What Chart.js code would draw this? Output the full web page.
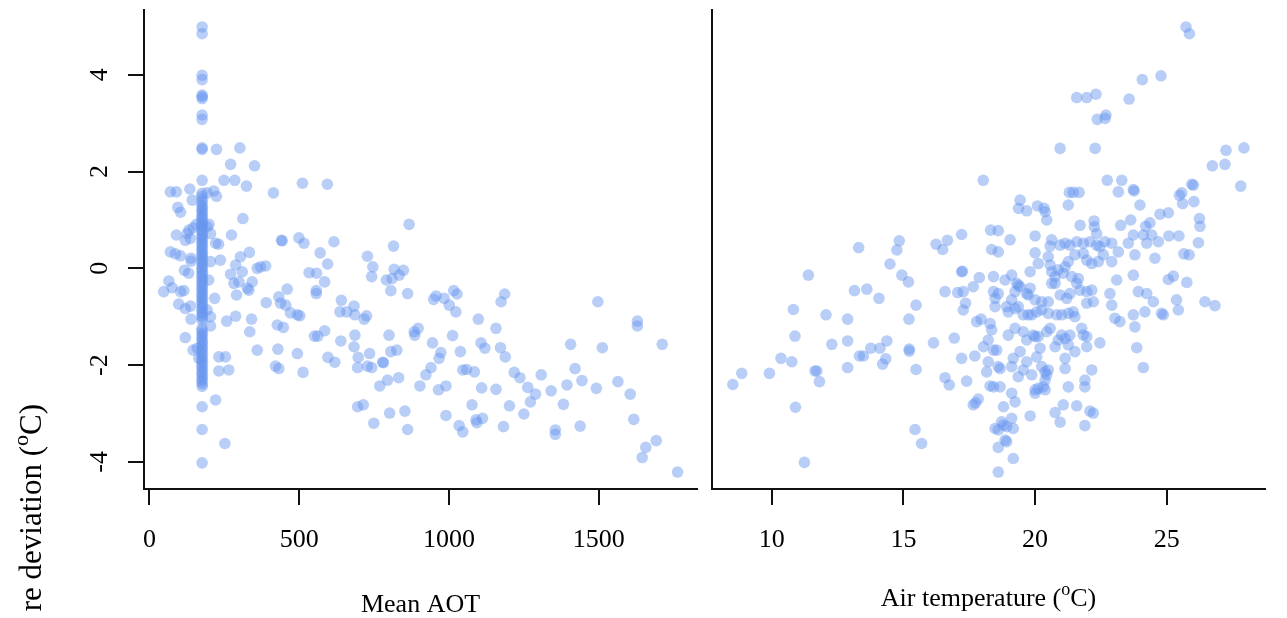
<!DOCTYPE html>
<html>
<head>
<meta charset="utf-8">
<script src="https://cdn.jsdelivr.net/npm/chart.js@4.4.0/dist/chart.umd.min.js"></script>
<style>
  body { margin: 0; background: #fff; }
  #wrap { position: relative; width: 1287px; height: 618px; overflow: hidden; background: #fff; }
  canvas { position: absolute; left: 0; top: 0; }
</style>
</head>
<body>
<div id="wrap">
  <canvas id="aotChart" width="1287" height="618"></canvas>
  <canvas id="tempChart" width="1287" height="618"></canvas>
</div>
<script>
// ticks
var aotTicks = [0, 500, 1000, 1500];
var tempTicks = [10, 15, 20, 25];
var devTicks = [-4, -2, 0, 2, 4];
var devLabels = ['-4', '-2', '0', '2', '4'];

// [mean AOT, deviation]
var aotPoints = [
  [176,4.99],[176,4.85],[176,3.99],[176,3.90],[176,3.58],[176,3.55],[176,3.51],[176,3.17],[176,3.08],[176,2.49],[176,2.46],[176,1.82],
  [176,1.55],[175,1.49],[177,1.43],[176,1.37],[175,1.31],[177,1.27],[176,1.22],[175,1.18],[177,1.13],[176,1.08],[175,1.04],[177,0.99],
  [176,0.95],[175,0.90],[177,0.86],[176,0.81],[175,0.77],[177,0.72],[176,0.68],[175,0.63],[177,0.59],[176,0.55],[175,0.50],[177,0.46],
  [176,0.41],[175,0.37],[177,0.32],[176,0.28],[175,0.24],[177,0.19],[176,0.15],[175,0.10],[177,0.06],[176,0.01],[175,-0.03],[177,-0.08],
  [176,-0.12],[175,-0.17],[177,-0.21],[176,-0.26],[175,-0.30],[177,-0.35],[176,-0.39],[175,-0.44],[177,-0.48],[176,-0.53],[175,-0.57],
  [177,-0.62],[176,-0.66],[175,-0.71],[177,-0.75],[176,-0.80],[175,-0.84],[177,-0.89],[176,-0.93],[175,-0.98],[177,-1.02],[176,-1.07],
  [176,-1.24],[175,-1.29],[177,-1.34],[176,-1.39],[175,-1.44],[177,-1.49],[176,-1.54],[175,-1.59],[177,-1.64],[176,-1.69],[175,-1.74],
  [177,-1.79],[176,-1.84],[175,-1.89],[177,-1.94],[176,-1.99],[175,-2.04],[177,-2.09],[176,-2.14],[175,-2.19],[177,-2.24],[176,-2.29],
  [175,-2.34],[177,-2.39],[176,-2.44],[176,-2.86],[176,-3.33],[176,-4.02],
  [224,2.46],[302,2.49],[271,2.15],[351,2.12],[249,1.82],[285,1.82],[324,1.70],[70,1.58],[90,1.58],[135,1.64],[143,1.41],
  [193,1.56],[215,1.60],[224,1.49],[414,1.56],[511,1.76],[594,1.74],[95,1.26],[104,1.16],[312,1.03],[867,0.91],[90,0.69],
  [126,0.72],[274,0.69],[441,0.58],[443,0.57],[499,0.63],[516,0.52],[616,0.55],[815,0.46],
  [146,0.84],[132,0.79],[120,0.58],[137,0.62],[157,0.91],[70,0.34],[87,0.30],[104,0.26],[139,0.21],[139,0.15],
  [48,-0.48],[65,-0.26],[76,-0.40],[104,-0.48],[115,-0.46],[117,-0.04],[131,-0.10],[98,-0.74],[120,-0.83],[137,-0.78],
  [139,-1.05],[120,-1.43],[146,-1.69],[160,-1.65],[165,-1.86],
  [199,0.91],[204,-1.19],[193,-0.86],[204,-1.00],[218,-0.62],[198,-0.24],[204,0.14],[237,0.17],[221,0.52],[231,0.50],[193,0.86],[204,0.72],
  [221,-2.72],[252,-3.62],[232,-1.83],[254,-1.83],[232,-2.12],[265,-2.10],[258,-1.09],[288,-0.99],[291,-0.55],[271,-0.12],
  [288,0.07],[310,-0.07],[304,0.24],[334,0.33],[282,-0.31],[299,-0.28],[327,-0.41],[343,-0.28],[360,0.00],[371,0.03],[388,0.05],
  [332,-0.45],[341,-1.05],[335,-1.31],[360,-1.69],[390,-0.71],[432,-0.59],[438,-0.72],[460,-0.43],[455,-0.76],[471,-0.92],
  [494,-0.96],[502,-0.98],[427,-1.17],[447,-1.22],[429,-1.67],[421,-2.02],[432,-2.07],[494,-1.76],[513,-2.15],[533,-0.09],
  [558,-0.10],[585,-0.28],[557,-0.46],[557,-0.52],[570,0.32],[595,0.09],[551,-1.40],[562,-1.40],[585,-1.29],[596,-1.84],
  [619,-1.94],[639,-1.50],[641,-0.66],[636,-0.90],[659,-0.90],[683,-0.78],[686,-0.96],[717,-1.05],[725,-0.98],[686,-1.38],
  [683,-1.62],[697,-1.84],[695,-2.05],[735,-1.76],[728,-2.02],[742,-2.05],[779,-1.94],[781,-1.95],[695,-2.86],[714,-2.82],
  [749,-3.20],[769,-2.43],[795,-2.31],[832,-2.26],[802,-2.99],[800,-1.38],[806,-1.72],[826,-1.69],[728,0.25],[746,0.03],
  [742,-0.17],[791,-0.24],[810,-0.21],[806,-0.46],[817,-0.02],[834,-0.14],
  [848,-0.04],[862,-0.52],[853,-2.95],[862,-3.33],[884,-1.31],[897,-1.24],[886,-1.38],[945,-1.54],[973,-1.74],[967,-1.86],
  [903,-2.43],[923,-2.20],[940,-2.05],[965,-2.51],[990,-2.43],[990,-3.04],[949,-0.64],[957,-0.57],[984,-0.62],[1001,-0.76],
  [1016,-0.46],[1027,-0.53],[1023,-0.90],[1012,-1.39],[1038,-1.72],[1046,-2.10],[1059,-2.09],[1085,-2.14],[1109,-2.47],
  [1157,-2.50],[1077,-2.82],[1034,-3.25],[1046,-3.38],[1090,-3.13],[1112,-3.10],[1093,-3.19],[1098,-1.05],[1157,-1.24],
  [1107,-1.54],[1120,-1.65],[1172,-1.64],[1188,-1.83],[1174,-0.69],[1186,-0.53],[1202,-2.84],[1182,-3.27],[1218,-2.15],
  [1237,-2.26],[1263,-2.46],[1289,-2.60],[1272,-2.76],[1250,-3.01],[1308,-2.20],[1341,-2.53],[1382,-2.81],[1394,-2.41],
  [1355,-3.34],[1355,-3.43],[1421,-2.07],[1444,-2.32],[1492,-2.48],[1438,-3.26],[1406,-1.57],[1497,-0.69],[1512,-1.64],
  [1564,-2.34],[1605,-2.60],[1617,-3.12],[1629,-1.09],[1629,-1.19],[1712,-1.57],[1657,-3.70],[1692,-3.56],[1645,-3.91],[1763,-4.21]
];

// [air temperature, deviation]
var tempPoints = [
  [18.03,1.82],[18.31,0.79],[18.60,0.78],[17.21,0.70],[16.67,0.58],[16.24,0.50],[16.49,0.39],[14.84,0.57],[14.75,0.38],[13.30,0.43],
  [14.49,0.09],[14.94,-0.14],[15.19,-0.28],[11.39,-0.14],[13.14,-0.46],[13.61,-0.43],[14.07,-0.62],[15.48,-0.76],[15.21,-1.05],
  [10.82,-0.85],[10.88,-1.40],[12.06,-0.96],[12.88,-1.05],[12.28,-1.57],[12.88,-1.50],[13.33,-1.81],[13.48,-1.81],[13.76,-1.65],
  [14.11,-1.65],[14.37,-1.50],[14.21,-1.98],[14.33,-1.87],[10.35,-1.86],[10.76,-1.93],[8.86,-2.17],[8.52,-2.40],[9.91,-2.17],
  [11.64,-2.12],[11.71,-2.12],[11.81,-2.34],[12.88,-2.05],[10.90,-2.87],[11.24,-4.01],[15.22,-1.67],[15.22,-1.71],[15.48,-2.09],
  [15.44,-3.33],[15.69,-3.62],[16.14,-1.54],[16.93,-1.44],[16.58,-0.48],[17.06,-0.50],[17.27,-0.48],[17.65,-0.38],[17.88,-0.19],
  [17.21,-0.07],[17.24,-0.06],[17.36,-0.72],[17.27,-0.86],[17.78,-1.10],[17.95,-1.05],[17.21,-1.86],[17.71,-1.81],[16.58,-2.26],
  [16.74,-2.41],[17.40,-2.33],[17.65,-2.82],[17.74,-2.78],[17.84,-2.70],
  [25.73,4.99],[25.86,4.85],[24.07,3.90],[24.78,3.98],[21.58,3.53],[21.96,3.53],[22.31,3.60],[23.57,3.50],[22.36,3.08],[22.66,3.10],
  [22.69,3.17],[20.95,2.48],[22.28,2.48],[22.74,1.82],[23.29,1.82],[23.16,1.58],[23.73,1.63],[23.76,1.60],[21.30,1.57],[21.45,1.57],
  [21.67,1.57],[21.26,1.31],[23.98,1.31],[25.48,1.51],[25.57,1.56],[25.95,1.74],[26.01,1.72],[25.60,1.34],[26.03,1.38],[26.73,2.12],
  [27.21,2.15],[27.25,2.44],[27.93,2.49],[27.81,1.70],[19.43,1.41],[19.37,1.24],[19.68,1.19],[20.09,1.29],[20.34,1.24],[20.38,1.17],
  [20.44,1.00],[20.00,0.67],[21.71,0.89],[22.24,0.98],[22.25,0.86],[22.34,0.72],[23.25,0.89],[23.63,1.00],[24.20,0.87],[24.36,0.94],
  [24.74,1.12],[25.06,1.15],[25.08,0.67],[25.46,0.67],[26.24,1.03],[26.26,0.87],[23.73,0.69],[24.11,0.69],[24.43,0.69],
  [18.35,0.39],[18.60,0.34],[19.05,0.59],[20.00,0.32],[20.57,0.46],[20.63,0.59],[20.95,0.48],[21.14,0.52],[21.32,0.48],[21.58,0.55],
  [21.83,0.52],[22.08,0.55],[22.34,0.48],[22.46,0.45],[22.65,0.55],[22.91,0.52],[23.16,0.34],[23.54,0.52],[23.79,0.28],[24.24,0.52],
  [24.55,0.21],[24.68,0.55],[25.65,0.30],[25.85,0.28],[26.20,0.53],
  [18.42,-0.17],[18.86,-0.24],[19.11,-0.14],[19.30,-0.31],[19.36,-0.35],[19.81,-0.07],[20.12,0.10],[20.50,0.24],[20.57,0.07],
  [20.63,-0.07],[20.76,-0.17],[20.88,-0.03],[21.07,-0.10],[21.14,0.03],[21.26,0.14],[21.39,-0.17],[21.51,0.28],[21.64,-0.21],
  [21.83,0.31],[21.96,0.17],[22.15,0.10],[22.40,0.14],[22.59,0.28],[22.91,0.14],[23.10,-0.24],[23.73,-0.14],[25.06,-0.23],
  [25.25,-0.16],[25.76,-0.29],
  [18.42,-0.48],[18.60,-0.52],[18.48,-0.62],[19.11,-0.65],[19.24,-0.48],[19.43,-0.38],[19.68,-0.52],[19.81,-0.41],[19.74,-0.55],
  [20.00,-0.65],[20.25,-0.69],[20.50,-0.69],[20.63,-0.31],[20.76,-0.31],[20.95,-0.55],[21.20,-0.62],[21.32,-0.52],[21.58,-0.31],
  [21.70,-0.45],[21.96,-0.48],[22.15,-0.45],[21.96,-0.72],[22.21,-0.69],[22.84,-0.52],[22.91,-0.76],[23.92,-0.48],[24.24,-0.52],
  [24.49,-0.69],[25.37,-0.65],[26.45,-0.69],[26.83,-0.77],
  [18.48,-0.79],[18.92,-0.79],[18.98,-0.90],[19.24,-0.83],[19.36,-0.79],[19.55,-0.96],[19.74,-0.96],[19.87,-0.96],[20.06,-0.90],
  [20.25,-0.86],[20.50,-0.93],[20.82,-0.96],[21.01,-0.96],[21.26,-0.93],[21.45,-0.90],[21.51,-1.00],[21.77,-1.24],[23.03,-1.03],
  [23.22,-1.10],[23.73,-0.96],[24.17,-0.90],[24.80,-0.93],[24.87,-0.96],[25.44,-0.86],[23.79,-1.21],
  [18.29,-1.14],[18.35,-1.27],[18.22,-1.48],[18.04,-1.62],[18.42,-1.69],[18.54,-1.69],[18.98,-1.38],[19.24,-1.24],[19.55,-1.31],
  [19.68,-1.48],[19.93,-1.38],[20.00,-1.41],[20.12,-1.41],[20.44,-1.31],[20.57,-1.24],[20.76,-1.62],[20.88,-1.48],[21.01,-1.38],
  [21.14,-1.45],[21.26,-1.58],[21.32,-1.38],[21.51,-1.72],[21.83,-1.38],[21.96,-1.41],[21.96,-1.62],[22.46,-1.54],[23.86,-1.64],
  [18.16,-2.14],[18.22,-1.93],[18.29,-2.43],[18.60,-2.03],[18.67,-2.07],[19.11,-2.03],[19.17,-1.86],[19.36,-2.24],[19.43,-1.72],
  [19.55,-2.10],[19.68,-1.93],[19.87,-2.20],[20.06,-1.83],[20.19,-1.65],[20.25,-2.03],[20.38,-2.14],[20.44,-2.20],[20.50,-2.10],
  [20.38,-2.31],[21.14,-1.86],[21.14,-2.07],[21.26,-2.45],[21.89,-2.31],[21.89,-2.45],[22.15,-2.10],[24.11,-2.05],
  [18.42,-2.45],[18.67,-2.45],[18.80,-2.86],[19.11,-2.58],[19.24,-2.76],[19.81,-3.05],[20.00,-2.51],[20.00,-2.58],[20.12,-2.48],
  [20.31,-2.45],[20.38,-2.51],[20.76,-2.98],[20.95,-3.18],[21.07,-2.82],[21.58,-2.84],[22.08,-2.95],[22.21,-2.99],[21.89,-3.25],
  [18.48,-3.31],[18.60,-3.34],[18.73,-3.17],[18.80,-3.24],[18.92,-3.27],[19.11,-3.10],[19.17,-3.31],[18.92,-3.58],[18.60,-3.70],
  [18.86,-3.55],[19.17,-3.93],[18.60,-4.21]
];

var serif = "'Liberation Serif', 'Times New Roman', serif";
var lineColor = '#111';
var tickSize = 26;

// text with a raised small "o"
function supText(ctx, parts, size, x, y, align) {
  var w = 0;
  parts.forEach(function(p) {
    ctx.font = (p[1] ? Math.round(size * 0.7) : size) + 'px ' + serif;
    w += ctx.measureText(p[0]).width;
  });
  var cx = align == 'center' ? x - w / 2 : (align == 'right' ? x - w : x);
  ctx.textAlign = 'left';
  ctx.textBaseline = 'alphabetic';
  parts.forEach(function(p) {
    ctx.font = (p[1] ? Math.round(size * 0.7) : size) + 'px ' + serif;
    ctx.fillText(p[0], cx, p[1] ? y - size * 0.42 : y);
    cx += ctx.measureText(p[0]).width;
  });
}

var aotText = {
  id: 'aotText',
  afterDraw: function(chart) {
    var ctx = chart.ctx, y = chart.scales.y;
    ctx.save();
    ctx.fillStyle = '#000';
    ctx.font = tickSize + 'px ' + serif;
    ctx.textAlign = 'center';
    ctx.textBaseline = 'alphabetic';
    devTicks.forEach(function(v, i) {
      ctx.save();
      ctx.translate(107, y.getPixelForValue(v));
      ctx.rotate(-Math.PI / 2);
      ctx.fillText(devLabels[i], 0, 0);
      ctx.restore();
    });
    ctx.save();
    ctx.translate(41, 404);
    ctx.rotate(-Math.PI / 2);
    supText(ctx, [['re deviation (', false], ['o', true], ['C)', false]], 31, 0, 0, 'right');
    ctx.restore();
    supText(ctx, [['Mean AOT', false]], 26, (chart.chartArea.left + chart.chartArea.right) / 2, 612, 'center');
    ctx.restore();
  }
};

var tempText = {
  id: 'tempText',
  afterDraw: function(chart) {
    var ctx = chart.ctx;
    ctx.save();
    ctx.fillStyle = '#000';
    supText(ctx, [['Air temperature (', false], ['o', true], ['C)', false]], 26,
      (chart.chartArea.left + chart.chartArea.right) / 2, 606, 'center');
    ctx.restore();
  }
};

function scatter(id, points, xMin, xMax, xTicks, padLeft, padRight, yWidth, yTickMarks, textPlugin) {
  return new Chart(document.getElementById(id), {
    type: 'scatter',
    data: {
      datasets: [{
        data: points.map(function(p) { return { x: p[0], y: p[1] }; }),
        pointRadius: 5.8,
        pointHoverRadius: 5.8,
        pointBackgroundColor: 'rgba(100,149,237,0.46)',
        pointBorderWidth: 0
      }]
    },
    options: {
      responsive: false,
      animation: false,
      events: [],
      layout: { padding: { left: padLeft, right: padRight, top: 10, bottom: 0 } },
      plugins: { legend: { display: false }, tooltip: { enabled: false } },
      scales: {
        x: {
          type: 'linear',
          position: 'bottom',
          min: xMin,
          max: xMax,
          afterBuildTicks: function(axis) { axis.ticks = xTicks.map(function(v) { return { value: v }; }); },
          afterFit: function(axis) { axis.height = 129; },
          grid: { display: true, drawOnChartArea: false, drawTicks: true, tickLength: 16, color: lineColor, lineWidth: 2 },
          border: { display: true, color: lineColor, width: 2 },
          ticks: {
            color: '#000', font: { family: serif, size: tickSize }, padding: 20, maxRotation: 0,
            callback: function(v) { return String(v); }
          }
        },
        y: {
          type: 'linear',
          position: 'left',
          min: -4.56,
          max: 5.34,
          afterBuildTicks: function(axis) { axis.ticks = devTicks.map(function(v) { return { value: v }; }); },
          afterFit: function(axis) { axis.width = yWidth; },
          grid: { display: true, drawOnChartArea: false, drawTicks: yTickMarks, tickLength: 16, color: lineColor, lineWidth: 2 },
          border: { display: true, color: lineColor, width: 2 },
          ticks: { display: false }
        }
      }
    },
    plugins: [textPlugin]
  });
}

scatter('aotChart', aotPoints, -18, 1828, aotTicks, 0, 1287 - 697, 144, true, aotText);
scatter('tempChart', tempPoints, 7.73, 28.73, tempTicks, 712, 1287 - 1265, 0, false, tempText);
</script>
</body>
</html>
